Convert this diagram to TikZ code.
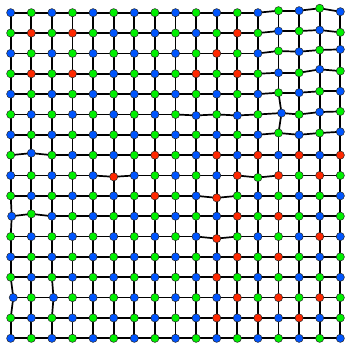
\documentclass[tikz,border=0pt]{standalone}
\usetikzlibrary{backgrounds}
\definecolor{nb}{RGB}{0,85,255}
\definecolor{ng}{RGB}{0,240,0}
\definecolor{nr}{RGB}{255,40,0}
\tikzset{
  dot/.style={circle,draw=black!85,line width=0.5pt,inner sep=0pt,minimum size=8.2pt},
  dotB/.style={dot,fill=nb},
  dotG/.style={dot,fill=ng},
  dotR/.style={dot,fill=nr},
  link/.style={line width=1.7pt,black}
}
\def\setoff#1#2#3#4{\expandafter\def\csname ox#1-#2\endcsname{#3}\expandafter\def\csname oy#1-#2\endcsname{#4}}
\setoff{0}{13}{0}{-2}\setoff{0}{14}{0}{-2}\setoff{0}{15}{0}{-4.4}\setoff{0}{16}{0}{-1}
\setoff{1}{13}{0}{-2}\setoff{1}{14}{0}{-2}\setoff{1}{15}{0}{-3}\setoff{1}{16}{0}{-0.7}
\setoff{2}{13}{0}{-2.4}\setoff{2}{14}{0}{-1.7}\setoff{2}{15}{0}{-3.4}\setoff{2}{16}{0}{-4}
\setoff{3}{13}{0}{-1}\setoff{3}{14}{0}{-1}\setoff{3}{15}{0}{-4.4}\setoff{3}{16}{0}{-2.7}
\setoff{4}{13}{0}{-1.4}\setoff{4}{14}{0}{-1.4}\setoff{4}{15}{0}{-2.8}\setoff{4}{16}{0}{-2.8}
\setoff{5}{13}{3}{-1.4}\setoff{5}{15}{0}{-2.4}\setoff{5}{16}{0}{-3}
\setoff{6}{13}{0}{-1.8}\setoff{6}{15}{0}{-1.8}\setoff{6}{16}{0}{-3}
\setoff{7}{1}{0}{-2}\setoff{10}{1}{0}{-2.3}\setoff{8}{5}{0}{1.3}\setoff{8}{12}{0}{2}
\setoff{9}{10}{0}{2}\setoff{11}{10}{0}{2}\setoff{5}{9}{0}{1}\setoff{5}{11}{0}{1}
\setoff{10}{0}{1}{0}\setoff{14}{0}{2.6}{0}\setoff{14}{2}{1.6}{0}
\begin{document}
\begin{tikzpicture}[x=1pt,y=-1pt]
\useasboundingbox (0,0) rectangle (345,344);
\foreach \row [count=\r from 0] in {
 {B,G,B,G,B,G,B,G,B,G,B,G,B,G,B,G,B},
 {G,R,G,R,G,B,G,B,G,B,G,R,G,B,G,B,G},
 {B,G,B,G,B,G,B,G,B,G,R,G,B,G,B,G,B},
 {G,R,G,R,G,B,G,B,G,R,G,R,G,B,G,B,G},
 {B,G,B,G,B,G,B,G,B,G,B,G,B,G,B,G,B},
 {G,B,G,B,G,B,G,B,G,B,G,B,G,B,G,B,G},
 {B,G,B,G,B,G,B,G,B,G,B,G,B,G,B,G,B},
 {G,B,G,B,G,B,G,R,G,B,R,B,R,B,R,B,R},
 {B,G,B,G,B,R,B,G,B,G,B,R,G,R,G,R,G},
 {G,B,G,B,G,B,G,R,G,B,R,G,B,G,B,G,B},
 {B,G,B,G,B,G,B,G,B,G,B,R,G,R,G,B,G},
 {G,B,G,B,G,B,G,B,G,B,R,G,B,G,B,R,B},
 {B,G,B,G,B,G,B,G,B,G,B,R,G,R,G,B,G},
 {G,B,G,B,G,B,G,B,G,B,R,G,B,G,B,G,B},
 {B,G,B,G,B,G,B,G,B,G,B,R,G,R,G,R,G},
 {G,B,G,B,G,B,G,B,G,B,R,B,R,B,R,B,G},
 {B,G,B,G,B,G,B,G,B,G,B,G,B,G,B,G,B}} {
  \foreach \col [count=\c from 0] in \row {
    \edef\dx{\ifcsname ox\r-\c\endcsname\csname ox\r-\c\endcsname\else0\fi}
    \edef\dy{\ifcsname oy\r-\c\endcsname\csname oy\r-\c\endcsname\else0\fi}
    \pgfmathsetmacro\px{10.7+20.6*\c+(\dx)}
    \pgfmathsetmacro\py{12.7+20.35*\r+(\dy)}
    \node[dot\col] (n-\r-\c) at (\px,\py) {};
  }
}
\begin{pgfonlayer}{background}
\foreach \r in {0,...,16} {
  \foreach \c [count=\cc from 1] in {0,...,15} {
    \draw[link] (n-\r-\c.center) -- (n-\r-\cc.center);
  }
}
\foreach \r [count=\rr from 1] in {0,...,15} {
  \foreach \c in {0,...,16} {
    \draw[link] (n-\r-\c.center) -- (n-\rr-\c.center);
  }
}
\end{pgfonlayer}
\end{tikzpicture}
\end{document}
